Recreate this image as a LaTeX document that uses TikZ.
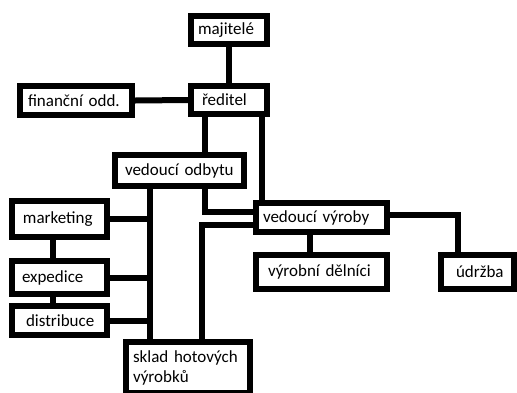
\documentclass[tikz,border=0pt]{standalone}
\usepackage{fontspec}
\setmainfont{Carlito}
\usetikzlibrary{calc}

\begin{document}
\begin{tikzpicture}[x=1pt,y=-1pt]
\tikzstyle{unit}=[draw, line width=6pt, fill=white, rectangle, align=left, inner ysep=0pt, font=\fontsize{17}{20}\selectfont]
\tikzstyle{link}=[line width=6pt]

\useasboundingbox (0,0) rectangle (517,392);

\node (maj) at (229,30) [unit, minimum width=76pt, minimum height=28pt, inner xsep=7pt, text width=62pt] {majitelé};
\node (red) at (229,100) [unit, minimum width=76pt, minimum height=28pt, inner xsep=11pt, text width=54pt] {ředitel};
\node (fin) at (76,100.5) [unit, minimum width=112pt, minimum height=29pt, inner xsep=8pt, text width=96pt] {finanční odd.};

\node (odb) at (179.5,170.5) [unit, minimum width=129pt, minimum height=31pt, inner xsep=10pt, text width=109pt] {vedoucí odbytu};
\node (vyr) at (321.5,217.5) [unit, minimum width=131pt, minimum height=29pt, inner xsep=7pt, text width=117pt] {vedoucí výroby};
\node (del) at (321.5,272) [unit, minimum width=131pt, minimum height=34pt, inner xsep=12pt, text width=107pt] {výrobní dělníci};
\node (udr) at (477.5,272) [unit, minimum width=73pt, minimum height=34pt, inner xsep=15pt, text width=43pt] {údržba};

\node (mkt) at (59.5,219) [unit, minimum width=95pt, minimum height=36pt, inner xsep=11pt, text width=73pt] {marketing};
\node (exp) at (59.5,277.5) [unit, minimum width=95pt, minimum height=33pt, inner xsep=10pt, text width=75pt] {expedice};
\node (dis) at (59.5,320.5) [unit, minimum width=95pt, minimum height=29pt, inner xsep=14pt, text width=67pt] {distribuce};
\node (skl) at (188,367.5) [unit, minimum width=124pt, minimum height=51pt, inner xsep=7pt, text width=110pt] {sklad hotových\\výrobků};

\coordinate (trunk) at (150,0);
\coordinate (odbX) at (205,0);
\coordinate (vyrX) at (202,0);
\coordinate (udrX) at (458,0);

\draw[link] (maj.south) -- (red.north);
\draw[link] (fin.east) -- (red.west);
\draw[link] (red.south -| odbX) -- (odb.north -| odbX);
\draw[link] ([xshift=33pt]red.south) -- ([xshift=33pt]red.south |- vyr.north);

% odbyt -> vyroba and the trunk down to the store
\draw[link] (odb.south -| odbX) |- ([yshift=6pt]vyr.west);
\draw[link] (odb.south -| trunk) -- (skl.north -| trunk);
\draw[link] (mkt.east) -- (mkt.east -| trunk);
\draw[link] (exp.east) -- (exp.east -| trunk);
\draw[link] (dis.east) -- (dis.east -| trunk);
\draw[link] ([xshift=-6.5pt]mkt.south) -- ([xshift=-6.5pt]exp.north);
\draw[link] ([xshift=-6.5pt]exp.south) -- ([xshift=-6.5pt]dis.north);

\draw[link] ([yshift=-7.5pt]vyr.west) -| (skl.north -| vyrX);
\draw[link] ([xshift=-11.5pt]vyr.south) -- ([xshift=-11.5pt]del.north);
\draw[link] ([yshift=2.5pt]vyr.east) -| (udr.north -| udrX);

\end{tikzpicture}
\end{document}
